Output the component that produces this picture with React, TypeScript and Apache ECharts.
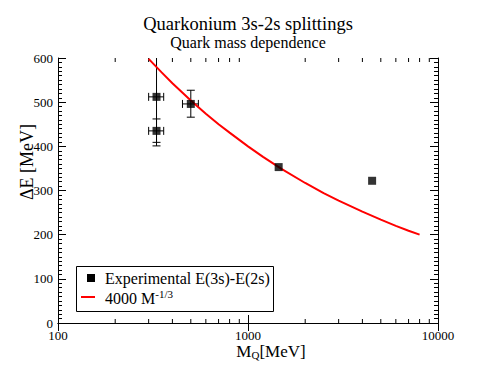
import React, { useEffect, useRef } from "react";
import * as echarts from "echarts";

// Experimental data: quark mass M_Q [MeV] and 3s-2s splitting ΔE [MeV]
const expMass = [330, 330, 500, 1450, 4500];
const expSplit = [512, 435, 496, 353, 322];
// error bounds (absolute) for the points that have error bars
const errMassLo = [300, 300, 452, null, null];
const errMassHi = [360, 360, 548, null, null];
const errSplitLo = [401, 409, 466, null, null];
const errSplitHi = [623, 462, 527, null, null];

// Curve 4000 M^-1/3
const curveMass = [300, 350, 400, 500, 600, 700, 800, 1000, 1200, 1500, 2000, 2500, 3000, 4000, 5000, 6000, 7000, 8000];
const curveSplit = [598, 568, 543, 504, 474, 450, 431, 400, 376, 349, 317, 294, 277, 252, 234, 220, 209, 200];

// Log-axis minor tick positions
const minorTicksX = [200, 300, 400, 500, 600, 700, 800, 900, 2000, 3000, 4000, 5000, 6000, 7000, 8000, 9000];
const xTickLabels = ["100", "1000", "10000"];

const expName = "Experimental E(3s)-E(2s)";
const curveName = "4000 M^-1/3";
const FONT = "Liberation Serif";

export default function App() {
  const ref = useRef<HTMLDivElement>(null);
  useEffect(() => {
    if (!ref.current) return;
    const chart = echarts.init(ref.current, undefined, { renderer: "svg" });

    const errData: number[][] = [];
    for (let i = 0; i < expMass.length; i++) {
      if (errMassLo[i] == null) continue;
      errData.push([expMass[i], expSplit[i], errMassLo[i] as number, errMassHi[i] as number, errSplitLo[i] as number, errSplitHi[i] as number]);
    }

    const axisLineStyle = { color: "#000", width: 1 };
    const xCommon = {
      type: "log" as const,
      logBase: 10,
      min: 100,
      max: 10000,
      axisLine: { show: true, lineStyle: axisLineStyle },
      axisTick: { show: true, inside: true, length: 8, lineStyle: axisLineStyle },
      splitLine: { show: false },
    };
    const yCommon = {
      type: "value" as const,
      min: 0,
      max: 600,
      interval: 100,
      axisLine: { show: true, lineStyle: axisLineStyle },
      axisTick: { show: true, inside: true, length: 8, lineStyle: axisLineStyle },
      minorTick: { show: true, splitNumber: 10, length: 4, lineStyle: axisLineStyle },
      splitLine: { show: false },
    };

    chart.setOption({
      animation: false,
      backgroundColor: "#fff",
      textStyle: { fontFamily: FONT, color: "#000" },
      grid: { left: 58, right: 56, top: 58, bottom: 59 },
      xAxis: [
        {
          ...xCommon,
          position: "bottom",
          axisLabel: {
            show: true,
            color: "#000",
            fontFamily: FONT,
            fontSize: 13,
            margin: 6,
            formatter: (v: number) => {
              const s = String(Math.round(v));
              return xTickLabels.indexOf(s) >= 0 ? s : "";
            },
          },
        },
        { ...xCommon, position: "top", axisLabel: { show: false } },
      ],
      yAxis: [
        {
          ...yCommon,
          position: "left",
          axisLabel: { show: true, color: "#000", fontFamily: FONT, fontSize: 13, margin: 5 },
        },
        { ...yCommon, position: "right", axisLabel: { show: false } },
      ],
      graphic: [
        {
          type: "text",
          x: 248,
          y: 24,
          style: { text: "Quarkonium 3s-2s splittings", fill: "#000", font: `18.5px "${FONT}"`, textAlign: "center", textVerticalAlign: "middle" },
        },
        {
          type: "text",
          x: 248,
          y: 42,
          style: { text: "Quark mass dependence", fill: "#000", font: `16px "${FONT}"`, textAlign: "center", textVerticalAlign: "middle" },
        },
        {
          type: "text",
          x: 27,
          y: 162,
          rotation: Math.PI / 2,
          style: { text: "ΔE [MeV]", fill: "#000", font: `18px "${FONT}"`, textAlign: "center", textVerticalAlign: "middle" },
        },
        {
          type: "text",
          x: 271,
          y: 351,
          style: {
            text: "{a|M}{b|Q}{a|[MeV]}",
            textAlign: "center",
            textVerticalAlign: "middle",
            rich: {
              a: { fill: "#000", fontFamily: FONT, fontSize: 17 },
              b: { fill: "#000", fontFamily: FONT, fontSize: 11, padding: [8, 0, 0, 0] },
            },
          },
        },
        // legend box
        {
          type: "group",
          x: 76,
          y: 266,
          z: 100,
          children: [
            { type: "rect", shape: { x: 0.5, y: 0.5, width: 197, height: 45 }, style: { fill: "#fff", stroke: "#000", lineWidth: 1 } },
            { type: "rect", shape: { x: 11, y: 8, width: 8, height: 8 }, style: { fill: "#000" } },
            { type: "line", shape: { x1: 5, y1: 31, x2: 19, y2: 31 }, style: { stroke: "#ff0000", lineWidth: 2 } },
            {
              type: "text",
              x: 29,
              y: 12,
              style: { text: expName, fill: "#000", font: `16px "${FONT}"`, textAlign: "left", textVerticalAlign: "middle" },
            },
            {
              type: "text",
              x: 29,
              y: 32,
              style: {
                text: "{n|4000 M}{s|-1/3}",
                textAlign: "left",
                textVerticalAlign: "middle",
                rich: {
                  n: { fill: "#000", fontFamily: FONT, fontSize: 16 },
                  s: { fill: "#000", fontFamily: FONT, fontSize: 11, padding: [0, 0, 9, 0] },
                },
              },
            },
          ],
        },
      ],
      series: [
        {
          name: "minorTicks",
          type: "custom",
          xAxisIndex: 0,
          yAxisIndex: 0,
          silent: true,
          data: minorTicksX.map((v) => [v, 0]),
          renderItem: (params: any, api: any) => {
            const v = api.value(0);
            const b = api.coord([v, 0]);
            const t = api.coord([v, 600]);
            const st = { stroke: "#000", lineWidth: 1 };
            return {
              type: "group",
              children: [
                { type: "line", shape: { x1: b[0], y1: b[1], x2: b[0], y2: b[1] - 4 }, style: st },
                { type: "line", shape: { x1: t[0], y1: t[1], x2: t[0], y2: t[1] + 4 }, style: st },
              ],
            };
          },
          z: 1,
        },
        {
          name: "errors",
          type: "custom",
          xAxisIndex: 0,
          yAxisIndex: 0,
          clip: true,
          silent: true,
          data: errData,
          renderItem: (params: any, api: any) => {
            const x = api.value(0);
            const y = api.value(1);
            const pxl = api.coord([api.value(2), y]);
            const pxh = api.coord([api.value(3), y]);
            const pyl = api.coord([x, api.value(4)]);
            const pyh = api.coord([x, api.value(5)]);
            const st = { stroke: "#000", lineWidth: 1 };
            const cap = 4;
            return {
              type: "group",
              children: [
                { type: "line", shape: { x1: pxl[0], y1: pxl[1], x2: pxh[0], y2: pxh[1] }, style: st },
                { type: "line", shape: { x1: pxl[0], y1: pxl[1] - cap, x2: pxl[0], y2: pxl[1] + cap }, style: st },
                { type: "line", shape: { x1: pxh[0], y1: pxh[1] - cap, x2: pxh[0], y2: pxh[1] + cap }, style: st },
                { type: "line", shape: { x1: pyl[0], y1: pyl[1], x2: pyh[0], y2: pyh[1] }, style: st },
                { type: "line", shape: { x1: pyl[0] - cap, y1: pyl[1], x2: pyl[0] + cap, y2: pyl[1] }, style: st },
                { type: "line", shape: { x1: pyh[0] - cap, y1: pyh[1], x2: pyh[0] + cap, y2: pyh[1] }, style: st },
              ],
            };
          },
          z: 2,
        },
        {
          name: curveName,
          type: "line",
          data: curveMass.map((m, i) => [m, curveSplit[i]]),
          showSymbol: false,
          symbol: "none",
          color: "#ff0000",
          lineStyle: { color: "#ff0000", width: 2 },
          z: 3,
        },
        {
          name: expName,
          type: "scatter",
          data: expMass.map((m, i) => [m, expSplit[i]]),
          symbol: "rect",
          symbolSize: 8,
          color: "#000",
          itemStyle: { color: "#000" },
          z: 4,
        },
      ],
    });

    return () => chart.dispose();
  }, []);

  return <div ref={ref} style={{ position: "fixed", left: 0, top: 0, width: 494, height: 382 }} />;
}
